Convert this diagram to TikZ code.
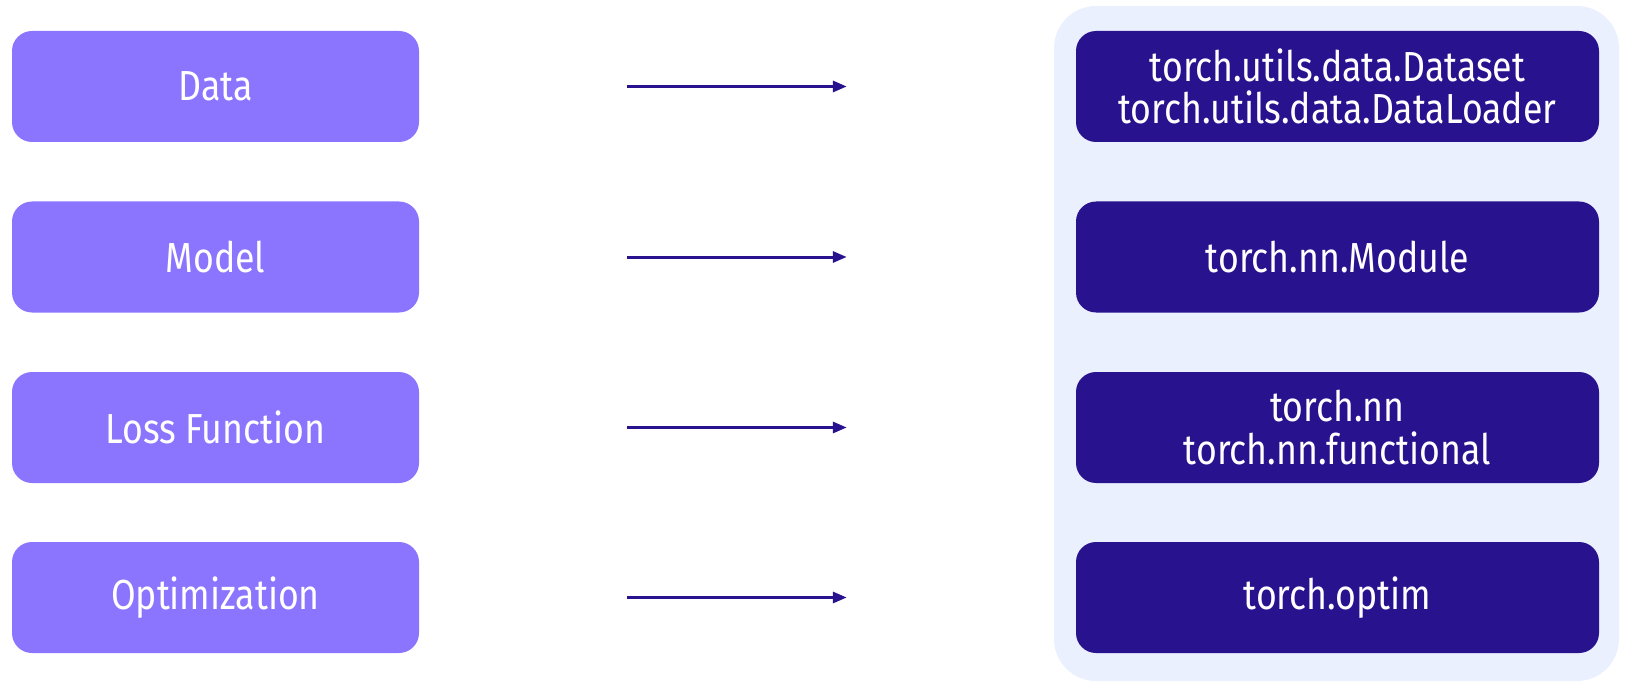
\documentclass[tikz,border=0pt]{standalone}
\usepackage{fontspec}
\setmainfont{Fira Sans}[FakeStretch=0.85]
\usetikzlibrary{arrows.meta}
\definecolor{lightbox}{HTML}{8B75FF}
\definecolor{darkbox}{HTML}{28128E}
\definecolor{panelbg}{HTML}{EBF0FE}
\tikzset{
  x=1pt, y=-1pt,
  stagebox/.style={rounded corners=20pt, fill=lightbox, text=white, minimum width=407pt, minimum height=111pt, inner sep=0pt, align=center, font=\fontsize{42}{43}\selectfont},
  apibox/.style={rounded corners=20pt, fill=darkbox, text=white, minimum width=523pt, minimum height=111pt, inner sep=0pt, align=center, font=\fontsize{42}{42.5}\selectfont},
  linkarrow/.style={draw=darkbox, line width=3pt, -{Triangle[length=14pt,width=11pt]}, shorten <=208pt, shorten >=229pt}
}
\begin{document}
\begin{tikzpicture}
\useasboundingbox (0,0) rectangle (1625,687);
\fill[panelbg, rounded corners=42pt] (1054,6) rectangle (1619,681);
\node[stagebox] (data) at (215.5,86.5) {Data};
\node[stagebox] (model) at (215.5,257) {Model};
\node[stagebox] (loss) at (215.5,427.5) {Loss Function};
\node[stagebox] (opt) at (215.5,597.5) {Optimization};
\node[apibox] (dapi) at (1337.5,86.5) {torch.utils.data.Dataset\\torch.utils.data.DataLoader};
\node[apibox] (mapi) at (1337.5,257) {torch.nn.Module};
\node[apibox] (lapi) at (1337.5,427.5) {torch.nn\\torch.nn.functional};
\node[apibox] (oapi) at (1337.5,597.5) {torch.optim};
\draw[linkarrow] (data) -- (dapi);
\draw[linkarrow] (model) -- (mapi);
\draw[linkarrow] (loss) -- (lapi);
\draw[linkarrow] (opt) -- (oapi);
\end{tikzpicture}
\end{document}
